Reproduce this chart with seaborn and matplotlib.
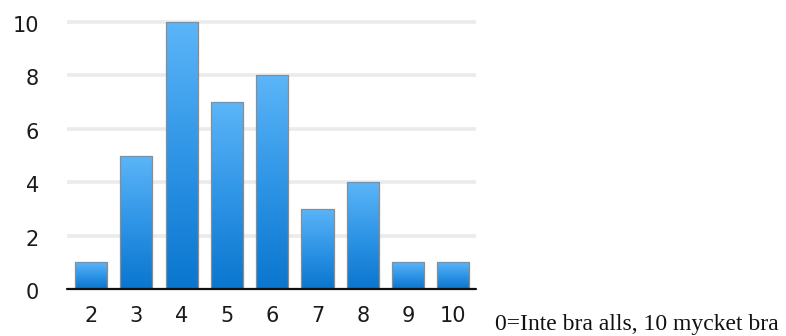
import numpy as np
import pandas as pd
import matplotlib
matplotlib.use("Agg")
import matplotlib.pyplot as plt
from matplotlib.colors import LinearSegmentedColormap
from matplotlib.transforms import ScaledTranslation
import seaborn as sns

# Rating scale and number of answers per rating
ratings = ["2", "3", "4", "5", "6", "7", "8", "9", "10"]
counts = [1, 5, 10, 7, 8, 3, 4, 1, 1]
y_ticks = [0, 2, 4, 6, 8, 10]
caption = "0=Inte bra alls, 10 mycket bra"

df = pd.DataFrame({"rating": ratings, "count": counts})

sns.set_theme(style="white")
plt.rcParams["font.family"] = ["DejaVu Sans"]

fig = plt.figure(figsize=(7.86, 3.36), dpi=100)
ax = fig.add_axes([67 / 786, 47 / 336, 409 / 786, 275 / 336])

sns.barplot(data=df, x="rating", y="count", order=ratings, ax=ax,
            width=0.71, color="#2a8ee0", edgecolor="#8c8c8c", linewidth=0.9,
            zorder=3)

# Vertical gradient fill for each bar, clipped to the bar shape
grad = LinearSegmentedColormap.from_list("bar", ["#0a76cf", "#2f95e6", "#5cb5f8"])
ramp = np.linspace(0, 1, 256).reshape(-1, 1)
for patch in ax.patches:
    x0, y0 = patch.get_x(), patch.get_y()
    w, h = patch.get_width(), patch.get_height()
    im = ax.imshow(ramp, cmap=grad, aspect="auto", origin="lower",
                   extent=[x0, x0 + w, y0, y0 + h], zorder=3.5)
    im.set_clip_path(patch)
    patch.set_facecolor("none")
    patch.set_zorder(4)

ax.set_xlim(-0.53, 8.5)
ax.set_ylim(0, 10.3)
ax.set_yticks(y_ticks)
ax.set_yticklabels([str(v) for v in y_ticks])
ax.set_xlabel("")
ax.set_ylabel("")

for v in y_ticks[1:]:
    ax.axhline(v, color="#ebebeb", lw=2.6, zorder=1)
ax.axhline(0, color="#111111", lw=1.6, zorder=5, clip_on=False)

for s in ax.spines.values():
    s.set_visible(False)
ax.tick_params(axis="both", length=0, labelsize=15, colors="#1a1a1a")
ax.tick_params(axis="y", pad=20)
ax.tick_params(axis="x", pad=12)

# y labels sit slightly below their gridlines
shift = ScaledTranslation(0, -2 / 100, fig.dpi_scale_trans)
for lab in ax.get_yticklabels():
    lab.set_transform(lab.get_transform() + shift)

fig.text(495 / 786, 1 - 330 / 336, caption, family=["Liberation Serif"],
         fontsize=17, color="#111111", va="baseline", ha="left")

fig.savefig("out.png", dpi=100, facecolor="white")
